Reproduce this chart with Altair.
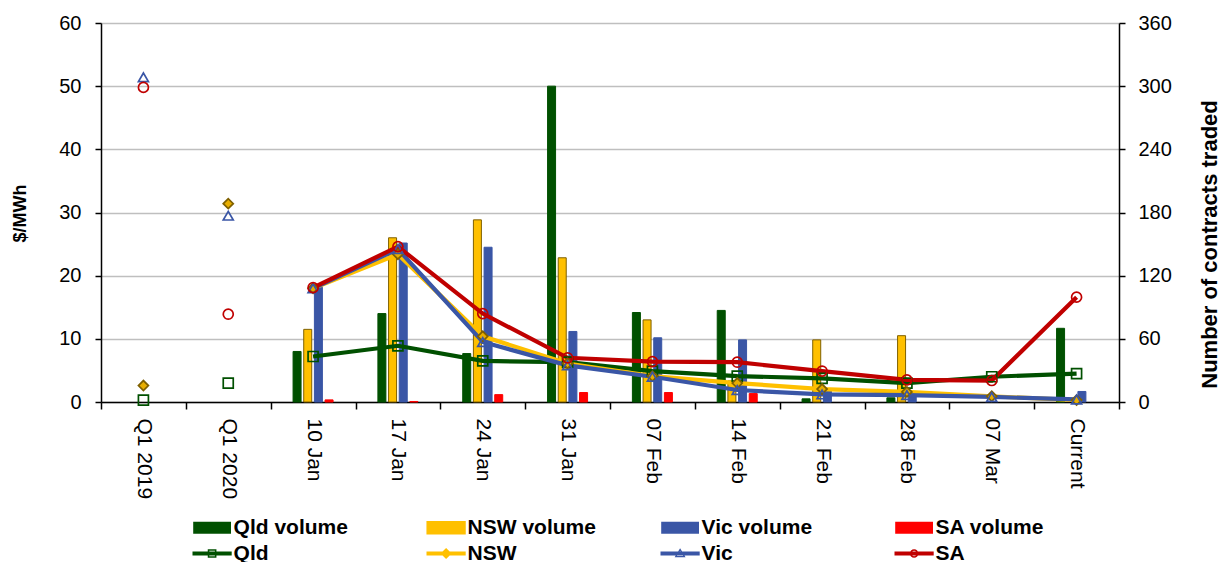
import altair as alt
import pandas as pd

FONT = "Liberation Sans"

periods = ["Q1 2019", "Q1 2020", "10 Jan", "17 Jan", "24 Jan", "31 Jan",
           "07 Feb", "14 Feb", "21 Feb", "28 Feb", "07 Mar", "Current"]
weekly = periods[2:]
states = ["Qld", "NSW", "Vic", "SA"]

# Contract prices, $/MWh
price_qld = [0.3, 3.0, 7.2, 8.9, 6.5, 6.3, 4.9, 4.1, 3.75, 3.0, 4.0, 4.5]
price_nsw = [2.6, 31.4, 18.0, 23.4, 10.4, 6.1, 4.1, 3.0, 2.05, 1.6, 0.9, 0.3]
price_vic = [51.4, 29.5, 18.0, 24.2, 9.5, 5.8, 4.0, 1.9, 1.2, 1.1, 0.8, 0.4]
price_sa = [49.8, 13.9, 18.1, 24.6, 14.0, 7.0, 6.4, 6.3, 4.9, 3.5, 3.4, 16.6]

# Number of contracts traded (None = no trades)
vol_qld = [None, None, 48, 84, 46, 300, 85, 87, 3, 4, None, 70]
vol_nsw = [None, None, 69, 156, 173, 137, 78, 20, 59, 63, None, None]
vol_vic = [None, None, 109, 151, 147, 67, 61, 59, 11, 6, None, 10]
vol_sa = [None, None, 2, 0.5, 7, 9, 9, 8, None, None, None, None]

prices = dict(zip(states, [price_qld, price_nsw, price_vic, price_sa]))
volumes = dict(zip(states, [vol_qld, vol_nsw, vol_vic, vol_sa]))

price_rows = []
for s in states:
    for p, v in zip(periods, prices[s]):
        price_rows.append({"period": p, "state": s, "price": v})
price_df = pd.DataFrame(price_rows)

vol_rows = []
for s in states:
    for p, v in zip(periods, volumes[s]):
        if v is not None:
            vol_rows.append({"period": p, "state": s, "series": s + " volume", "volume": v})
vol_df = pd.DataFrame(vol_rows)

series_names = [s + " volume" for s in states] + states
series_colors = ["#005000", "#FFC000", "#3A56A6", "#FF0000",
                 "#005000", "#FFC000", "#3A56A6", "#C00000"]

# legend glyphs (custom symbol paths, unit = sqrt(symbolSize)/2 px)
RECT = "M-2.7,-0.85H2.7V0.85H-2.7Z"
LINE = "M-2.8,-0.3H2.8V0.3H-2.8Z"
SQ = "M-0.62,-0.62H0.62V0.62H-0.62Z M-0.4,-0.4V0.4H0.4V-0.4Z"
DIA = "M0,-0.8L0.8,0L0,0.8L-0.8,0Z"
TRI = "M0,-0.75L0.78,0.55H-0.78Z M0,-0.38L-0.45,0.36H0.45Z"
CIR = ("M0.62,0A0.62 0.62 0 1 1 -0.62,0A0.62 0.62 0 1 1 0.62,0Z "
       "M0.4,0A0.4 0.4 0 1 0 -0.4,0A0.4 0.4 0 1 0 0.4,0Z")

shape_expr = (
    "indexof(datum.value, 'volume') >= 0 ? '" + RECT + "' : "
    "datum.value === 'Qld' ? '" + LINE + " " + SQ + "' : "
    "datum.value === 'NSW' ? '" + LINE + " " + DIA + "' : "
    "datum.value === 'Vic' ? '" + LINE + " " + TRI + "' : '" + LINE + " " + CIR + "'"
)

legend = alt.Legend(
    title=None, orient="none", legendX=88, legendY=494, columns=4,
    direction="horizontal", gridAlign="all", columnPadding=61, rowPadding=4,
    padding=0, symbolSize=196, symbolOffset=12.6, labelOffset=11,
    symbolType={"expr": shape_expr},
    symbolStrokeColor={"expr": "datum.value === 'NSW volume' ? '#7F6000' : 'transparent'"},
    symbolStrokeWidth={"expr": "datum.value === 'NSW volume' ? 1.5 : 0"},
    symbolOpacity=1,
    labelFont=FONT, labelFontSize=21, labelFontWeight="bold",
    labelColor="black", labelLimit=400,
)
color_scale = alt.Scale(domain=series_names, range=series_colors)

x_axis = alt.Axis(
    title=None, tickBand="extent", labelAngle=90, labelAlign="left",
    labelBaseline="middle", labelFont=FONT, labelFontSize=21,
    labelColor="black", labelPadding=9, tickSize=7, tickColor="black",
    tickWidth=1.5, domainColor="black", domainWidth=1.5, grid=False,
)
x_enc = alt.X("period:N", sort=periods,
              scale=alt.Scale(domain=periods, paddingInner=0, paddingOuter=0),
              axis=x_axis)

bars = alt.Chart(vol_df).mark_bar(strokeWidth=1).encode(
    x=x_enc,
    xOffset=alt.XOffset("state:N", sort=states,
                        scale=alt.Scale(domain=states, range=[22.4, 62.4],
                                        paddingInner=0.25, paddingOuter=0)),
    y=alt.Y("volume:Q", scale=alt.Scale(domain=[0, 360], nice=False),
            axis=alt.Axis(
                orient="right", values=list(range(0, 361, 60)),
                title="Number of contracts traded", titleFont=FONT,
                titleFontSize=22, titleFontWeight="bold", titleColor="black",
                titleAngle=270, titleX=90, titleY=221, titleAlign="center",
                titleBaseline="middle", labelFont=FONT, labelFontSize=20,
                labelColor="black", labelPadding=13, labelFlush=False,
                tickSize=6, tickColor="black", tickWidth=1.5,
                domainColor="black", domainWidth=1.5, grid=False)),
    color=alt.Color("series:N", scale=color_scale, legend=legend),
    stroke=alt.Stroke("state:N", legend=None,
                      scale=alt.Scale(domain=states,
                                      range=["#005000", "#7F6000", "#3A56A6", "#FF0000"])),
)

price_y = alt.Y("price:Q", scale=alt.Scale(domain=[0, 60], nice=False),
                axis=alt.Axis(
                    orient="left", values=list(range(0, 61, 10)),
                    title="$/MWh", titleFont=FONT, titleFontSize=18,
                    titleFontWeight="bold", titleColor="black", titleAngle=270,
                    titleX=-81, titleY=190, titleAlign="center",
                    titleBaseline="middle", labelFont=FONT, labelFontSize=20,
                    labelColor="black", labelPadding=14, labelFlush=False,
                    tickSize=6, tickColor="black", tickWidth=1.5,
                    domainColor="black", domainWidth=1.5, grid=True,
                    gridColor="#BFBFBF", gridWidth=1.5))

lines = alt.Chart(price_df).transform_filter(
    alt.FieldOneOfPredicate(field="period", oneOf=weekly)
).mark_line(strokeWidth=4.2).encode(
    x=x_enc,
    y=price_y,
    color=alt.Color("state:N", scale=color_scale, legend=None),
)

points = alt.Chart(price_df).mark_point(size=100, strokeWidth=1.7, opacity=1).encode(
    x=x_enc,
    y=price_y,
    shape=alt.Shape("state:N", legend=None,
                    scale=alt.Scale(domain=states,
                                    range=["square", "diamond", "triangle-up", "circle"])),
    fill=alt.Fill("state:N", legend=None,
                  scale=alt.Scale(domain=states,
                                  range=["transparent", "#E8AE00", "transparent", "transparent"])),
    stroke=alt.Stroke("state:N", legend=None,
                      scale=alt.Scale(domain=states,
                                      range=["#005000", "#7F6000", "#3A56A6", "#C00000"])),
)

chart = alt.layer(bars, alt.layer(lines, points)).resolve_scale(
    y="independent", stroke="independent"
).properties(
    width=1018, height=379,
    padding={"left": 101, "top": 23, "right": 109, "bottom": 160},
    autosize=alt.AutoSizeParams(type="none"),
    background="white",
).configure_view(stroke=None)

chart.save("out.html", embed_options={"renderer": "svg", "actions": False})
